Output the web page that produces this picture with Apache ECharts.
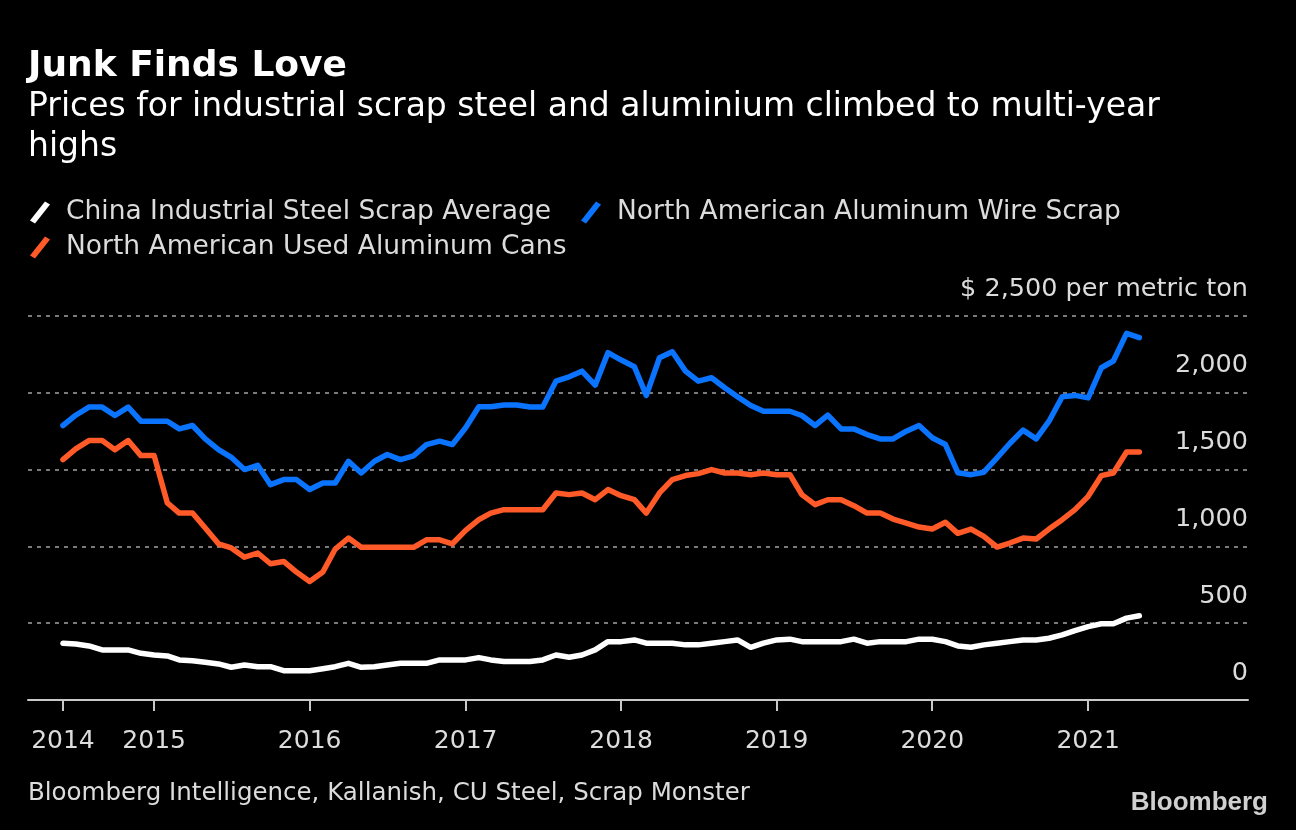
<!DOCTYPE html>
<html>
<head>
<meta charset="utf-8">
<script src="https://cdn.jsdelivr.net/npm/echarts@6/dist/echarts.min.js"></script>
<style>
  html, body { margin: 0; padding: 0; background: #000; }
  #chart { width: 1296px; height: 830px; }
</style>
</head>
<body>
<div id="chart"></div>
<script>
// Monthly observations, June 2014 .. May 2021
const startYear = 2014, startMonth = 6, monthCount = 84;
const months = [];
for (let i = 0; i < monthCount; i++) {
  const m = startMonth - 1 + i;
  const y = startYear + Math.floor(m / 12);
  const mm = (m % 12) + 1;
  months.push(y + '-' + (mm < 10 ? '0' : '') + mm + '-01');
}

const seriesNames = [
  'China Industrial Steel Scrap Average',
  'North American Aluminum Wire Scrap',
  'North American Used Aluminum Cans'
];

const chinaSteel = [
  370, 365, 352, 326, 326, 326, 304, 293, 287, 261, 256, 246,
  235, 213, 228, 217, 217, 191, 191, 191, 204, 217, 239, 213,
  217, 228, 239, 239, 239, 261, 261, 261, 276, 261, 250, 250,
  250, 261, 293, 278, 293, 326, 380, 380, 391, 370, 370, 370,
  359, 359, 370, 380, 391, 343, 370, 391, 396, 380, 380, 380,
  380, 396, 370, 380, 380, 380, 396, 396, 380, 352, 343, 359,
  370, 380, 391, 391, 402, 424, 452, 478, 496, 496, 533, 548
];

const wireScrap = [
  1787, 1854, 1907, 1907, 1852, 1907, 1815, 1815, 1815, 1765, 1787, 1700,
  1630, 1580, 1500, 1528, 1402, 1435, 1435, 1370, 1413, 1413, 1554, 1478,
  1554, 1598, 1565, 1590, 1663, 1685, 1663, 1772, 1909, 1909, 1920, 1920,
  1907, 1907, 2076, 2104, 2141, 2050, 2261, 2213, 2170, 1983, 2228, 2267,
  2141, 2076, 2098, 2033, 1974, 1917, 1880, 1880, 1880, 1852, 1787, 1854,
  1765, 1765, 1728, 1700, 1700, 1750, 1787, 1707, 1663, 1480, 1467, 1483,
  1576, 1670, 1757, 1700, 1815, 1974, 1983, 1967, 2163, 2207, 2387, 2359
];

const usedCans = [
  1565, 1635, 1689, 1689, 1630, 1689, 1591, 1591, 1283, 1217, 1217, 1120,
  1017, 990, 930, 957, 887, 902, 833, 772, 833, 983, 1054, 994,
  994, 994, 994, 994, 1043, 1043, 1017, 1104, 1174, 1217, 1239, 1239,
  1239, 1239, 1348, 1337, 1348, 1304, 1370, 1330, 1304, 1217, 1348, 1435,
  1461, 1474, 1500, 1478, 1478, 1467, 1478, 1467, 1467, 1337, 1272, 1304,
  1304, 1265, 1217, 1217, 1178, 1152, 1126, 1113, 1157, 1085, 1113, 1065,
  996, 1022, 1054, 1048, 1113, 1174, 1239, 1326, 1461, 1478, 1615, 1615
];

const xTickDates = ['2014-06-01', '2015-01-01', '2016-01-01', '2017-01-01',
  '2018-01-01', '2019-01-01', '2020-01-01', '2021-01-01'];
const xTickLabels = ['2014', '2015', '2016', '2017', '2018', '2019', '2020', '2021'];
const yTicks = [0, 500, 1000, 1500, 2000, 2500];
const yTickLabels = ['0', '500', '1,000', '1,500', '2,000', '$ 2,500 per metric ton'];

function toTs(s) {
  const p = s.split('-').map(Number);
  return Date.UTC(p[0], p[1] - 1, p[2]);
}
const tickTs = xTickDates.map(toTs);

const colors = ['#ffffff', '#0a74ff', '#ff5a28'];
const seriesData = [chinaSteel, wireScrap, usedCans];

const FONT = 'DejaVu Sans';
const TXT = '#dcdcdc';
const slashIcon = 'path://M0,19 L15,0 L20,3 L5,22 Z';

const chart = echarts.init(document.getElementById('chart'), null, { renderer: 'canvas' });

chart.setOption({
  backgroundColor: '#000000',
  animation: false,
  textStyle: { fontFamily: FONT },
  title: [
    {
      text: 'Junk Finds Love',
      left: 28, top: 49, padding: 0,
      textStyle: { color: '#ffffff', fontSize: 36, fontWeight: 'bold', fontFamily: FONT, lineHeight: 36 }
    },
    {
      text: 'Prices for industrial scrap steel and aluminium climbed to multi-year\nhighs',
      left: 28, top: 87, padding: 0,
      textStyle: { color: '#ffffff', fontSize: 33, fontWeight: 'normal', fontFamily: FONT, lineHeight: 40 }
    },
    {
      text: 'Bloomberg Intelligence, Kallanish, CU Steel, Scrap Monster',
      left: 28, top: 780, padding: 0,
      textStyle: { color: TXT, fontSize: 24.5, fontWeight: 'normal', fontFamily: FONT, lineHeight: 28 }
    },
    {
      text: 'Bloomberg',
      right: 28, top: 789, padding: 0,
      textStyle: { color: '#d0d0d0', fontSize: 26, fontWeight: 'bold', fontFamily: 'Liberation Sans', lineHeight: 28 }
    }
  ],
  legend: [
    {
      data: [seriesNames[0], seriesNames[1]],
      left: 30, top: 199, padding: 0,
      icon: slashIcon,
      itemWidth: 20, itemHeight: 22,
      itemGap: 30,
      textStyle: { color: TXT, fontSize: 26.5, fontFamily: FONT, padding: [0, 0, 0, 11] }
    },
    {
      data: [seriesNames[2]],
      left: 30, top: 234, padding: 0,
      icon: slashIcon,
      itemWidth: 20, itemHeight: 22,
      textStyle: { color: TXT, fontSize: 26.5, fontFamily: FONT, padding: [0, 0, 0, 11] }
    }
  ],
  grid: { left: 28, right: 48, top: 316, bottom: 130 },
  xAxis: {
    type: 'value',
    min: toTs('2014-03-11'),
    max: toTs('2022-01-11'),
    axisLine: { show: true, onZero: false, lineStyle: { color: '#c8c8c8', width: 2 } },
    axisTick: {
      show: true, length: 11, inside: false,
      customValues: tickTs,
      lineStyle: { color: '#c8c8c8', width: 2 }
    },
    axisLabel: {
      customValues: tickTs,
      showMinLabel: true, showMaxLabel: true,
      formatter: function (v) {
        const idx = tickTs.indexOf(v);
        return idx >= 0 ? xTickLabels[idx] : '';
      },
      color: TXT, fontSize: 25, fontFamily: FONT, margin: 29
    },
    splitLine: { show: false }
  },
  yAxis: {
    type: 'value',
    position: 'right',
    min: 0, max: 2500, interval: 500,
    axisLine: { show: false },
    axisTick: { show: false },
    axisLabel: {
      inside: true,
      margin: 0,
      verticalAlign: 'bottom',
      padding: [0, 0, 14, 0],
      color: TXT, fontSize: 25.5, fontFamily: FONT,
      formatter: function (v) {
        const idx = yTicks.indexOf(v);
        return idx >= 0 ? yTickLabels[idx] : String(v);
      }
    },
    splitLine: { show: true, lineStyle: { color: '#7a7a7a', width: 2, type: [4, 5] } }
  },
  series: seriesData.map(function (vals, k) {
    return {
      name: seriesNames[k],
      type: 'line',
      data: months.map(function (m, i) { return [toTs(m), vals[i]]; }),
      showSymbol: false,
      symbol: 'none',
      lineStyle: { color: colors[k], width: 5.5, join: 'round', cap: 'round' },
      itemStyle: { color: colors[k] },
      z: k === 0 ? 3 : 2
    };
  })
});
</script>
</body>
</html>
